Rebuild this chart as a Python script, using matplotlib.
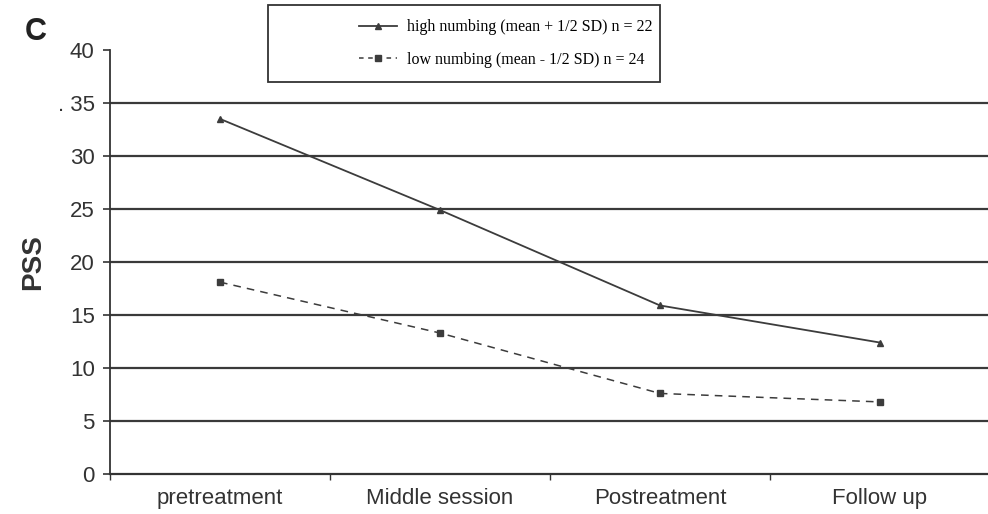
import matplotlib
matplotlib.use("Agg")
import matplotlib.pyplot as plt
from matplotlib.lines import Line2D
from matplotlib.patches import Rectangle

categories = ["pretreatment", "Middle session", "Postreatment", "Follow up"]
high_numbing = [33.5, 24.9, 15.9, 12.4]
low_numbing = [18.1, 13.3, 7.6, 6.8]
yticks = [0, 5, 10, 15, 20, 25, 30, 35, 40]
ytick_labels = ["0", "5", "10", "15", "20", "25", "30", ". 35", "40"]
legend_labels = ["high numbing (mean + 1/2 SD) n = 22", "low numbing (mean - 1/2 SD) n = 24"]

fig = plt.figure(figsize=(9.88, 5.14), dpi=100)
ax = fig.add_axes([110/988, 40/514, 880/988, 424/514])

x = list(range(len(categories)))
ax.set_xlim(-0.5, len(categories) - 0.5)
ax.set_ylim(0, 40)

for v in yticks[1:-1]:
    ax.axhline(v, color="#3a3a3a", lw=1.6, zorder=1)

line_col = "#3c3c3c"
ax.plot(x, high_numbing, color=line_col, lw=1.3, marker="^", ms=5, zorder=3)
ax.plot(x, low_numbing, color=line_col, lw=1.1, ls=(0, (5, 4)), marker="s", ms=4.5, zorder=3)

for s in ["top", "right"]:
    ax.spines[s].set_visible(False)
ax.spines["left"].set_color("#333333")
ax.spines["bottom"].set_color("#333333")
ax.spines["left"].set_linewidth(1.3)
ax.spines["bottom"].set_linewidth(1.6)

ax.set_yticks(yticks)
ax.set_yticklabels(ytick_labels, fontsize=16, family="Liberation Sans", color="#333333")
ax.tick_params(axis="y", direction="out", length=5, width=1.2, color="#333333", pad=6)

ax.set_xticks([i - 0.5 for i in range(len(categories) + 1)])
ax.set_xticklabels([])
ax.tick_params(axis="x", direction="out", length=4, width=1.0, color="#333333")
for i, c in enumerate(categories):
    ax.text(i, -1.3, c, ha="center", va="top", fontsize=16, family="Liberation Sans",
            color="#333333", transform=ax.transData)

ax.set_ylabel("PSS", fontsize=20, fontweight="bold", family="Liberation Sans", color="#333333", labelpad=8)

fig.text(25/988, 1 - 32/514, "C", fontsize=22, fontweight="bold", family="Liberation Sans",
         color="#222222", va="center", ha="left")

handles = [
    Line2D([], [], color=line_col, lw=1.3, marker="^", ms=5),
    Line2D([], [], color=line_col, lw=1.1, ls=(0, (3, 3)), marker="s", ms=4.5),
]
leg = fig.legend(handles, legend_labels, loc="center right",
                 bbox_to_anchor=(268/988, 1 - 82/514, (660-268)/988, 77/514),
                 prop={"family": "Liberation Serif", "size": 11.5}, frameon=False,
                 handlelength=2.4, borderpad=0.3, labelspacing=1.05,
                 borderaxespad=0.2, handletextpad=0.6)
fig.patches.append(Rectangle((268/988, 1 - 82/514), (660-268)/988, 77/514,
                             transform=fig.transFigure, fill=False, edgecolor="#333333", lw=1.3))

fig.savefig("out.png", dpi=100)
